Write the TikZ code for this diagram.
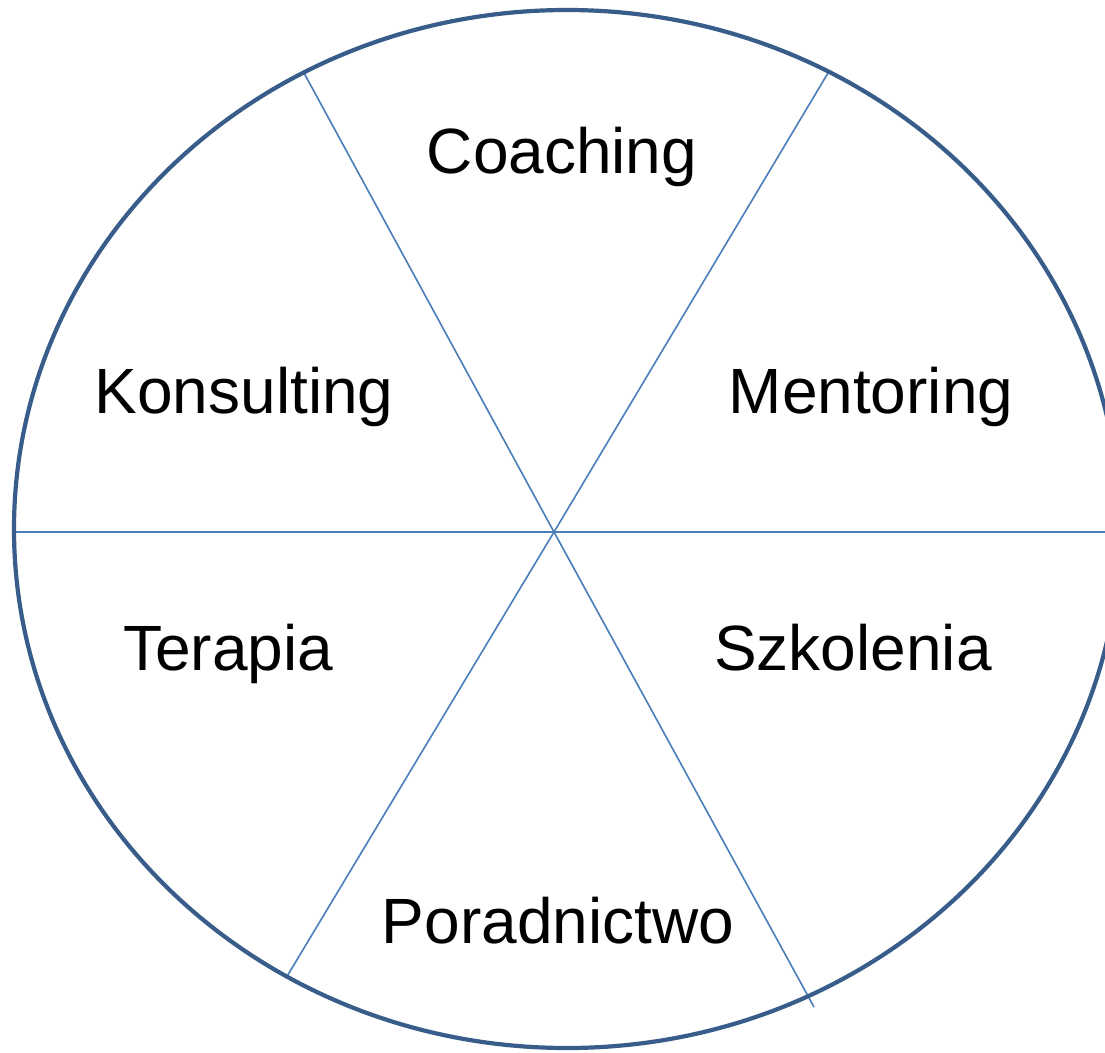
\documentclass[tikz,border=0pt]{standalone}
\usepackage{fontspec}
\setmainfont{Liberation Sans}
\begin{document}
\begin{tikzpicture}[x=1pt,y=-1pt,
  rim/.style={draw=rimblue,line width=4.2pt},
  spoke/.style={draw=spokeblue,line width=1.6pt},
  lbl/.style={anchor=base,inner sep=0pt,font=\fontsize{64}{72}\selectfont}]
\definecolor{rimblue}{HTML}{385D8A}
\definecolor{spokeblue}{HTML}{4A7EBB}
\useasboundingbox (0,0) rectangle (1105,1052);
\clip (0,0) rectangle (1105,1052);
\fill[white] (0,0) rectangle (1105,1052);
\coordinate (c) at (554,532);
\coordinate (a1) at (304,73);
\coordinate (a2) at (814,1007);
\coordinate (b1) at (828,73);
\coordinate (b2) at (286,978);
\coordinate (h1) at (14,532);
\coordinate (h2) at (1115,532);
\draw[spoke] (a1) -- (c) -- (a2);
\draw[spoke] (b1) -- (c) -- (b2);
\draw[spoke] (h1) -- (c) -- (h2);
\draw[rim] (567,529) ellipse [x radius=553, y radius=519];
\node[lbl] (coach) at (562,173) {Coaching};
\node[lbl] (kons) at (244,413) {Konsulting};
\node[lbl] (ment) at (871,413) {Mentoring};
\node[lbl] (ter) at (228,670) {Terapia};
\node[lbl] (szk) at (853,670) {Szkolenia};
\node[lbl] (por) at (558,943) {Poradnictwo};
\end{tikzpicture}
\end{document}
